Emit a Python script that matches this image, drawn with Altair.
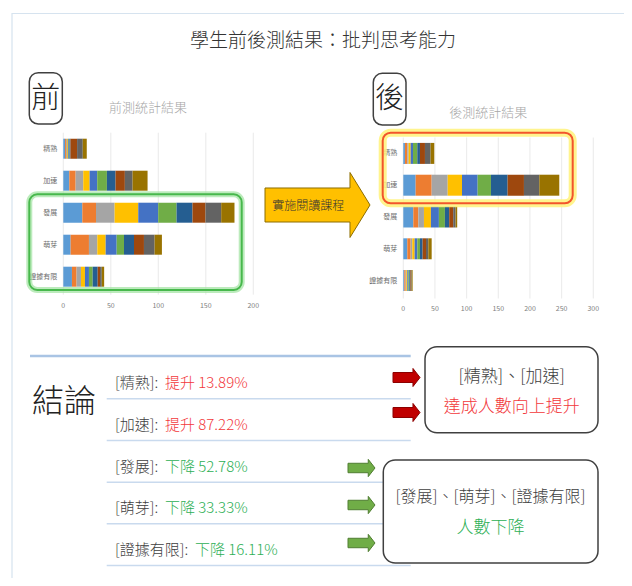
import altair as alt
import pandas as pd

FONT = "Noto Sans CJK TC"
OX, OY = 8, 8


def X(v):
    return v - OX


def Y(v):
    return v - OY


# ---------------- data ----------------
categories = ["精熟", "加速", "發展", "萌芽", "證據有限"]
series = ["S1", "S2", "S3", "S4", "S5", "S6", "S7", "S8", "S9", "S10"]
palette = ["#5B9BD5", "#ED7D31", "#A5A5A5", "#FFC000", "#4472C4",
           "#70AD47", "#255E91", "#9E480E", "#636363", "#997300"]

pre_mastery = [1.8, 1.0, 1.0, 1.0, 1.0, 0.7, 1.0, 7.0, 6.0, 4.2]
pre_accel = [6.3, 6.7, 8.0, 6.7, 8.0, 10.2, 9.1, 9.8, 8.1, 15.8]
pre_develop = [20.0, 14.4, 19.6, 24.9, 21.0, 19.3, 16.8, 13.7, 16.5, 14.0]
pre_sprout = [7.7, 19.3, 8.8, 8.8, 11.6, 7.7, 10.5, 10.5, 11.2, 7.7]
pre_limited = [9.1, 4.9, 4.6, 4.2, 4.2, 3.9, 5.3, 2.5, 1.8, 2.5]

post_mastery = [2.6, 3.7, 2.1, 3.2, 3.7, 6.8, 4.2, 7.9, 8.9, 5.8]
post_accel = [19.5, 25.3, 25.3, 22.6, 24.7, 21.0, 26.3, 25.8, 24.2, 31.6]
post_develop = [15.8, 7.9, 8.9, 11.0, 12.6, 9.5, 6.8, 6.3, 3.7, 2.6]
post_sprout = [6.3, 5.3, 2.6, 3.7, 4.2, 4.2, 4.2, 5.3, 3.7, 5.3]
post_limited = [1.6, 2.1, 1.0, 1.6, 1.6, 1.6, 1.6, 1.0, 1.0, 1.6]

pre_ticks = [0, 50, 100, 150, 200]
post_ticks = [0, 50, 100, 150, 200, 250, 300]

conc_labels = ["精熟", "加速", "發展", "萌芽", "證據有限"]
conc_dir = ["提升", "提升", "下降", "下降", "下降"]
conc_pct = [13.89, 87.22, 52.78, 33.33, 16.11]

RED = "#F2383B"
GREEN = "#2DAF55"
LIGHT = 300


def long_df(rows):
    recs = []
    for cat, vals in zip(categories, rows):
        for i, v in enumerate(vals):
            recs.append({"cat": cat, "series": series[i], "idx": i, "value": v})
    return pd.DataFrame(recs)


pre_df = long_df([pre_mastery, pre_accel, pre_develop, pre_sprout, pre_limited])
post_df = long_df([post_mastery, post_accel, post_develop, post_sprout, post_limited])
cat_df = pd.DataFrame({"cat": categories})
one = pd.DataFrame({"k": [0]})


def bar_panel(df, ticks, xdomain, xrange, yrange, pad_inner, tick_y, label_x):
    tick_df = pd.DataFrame({"t": ticks})
    xs = alt.Scale(domain=xdomain, range=xrange)
    ys = alt.Scale(domain=categories, range=yrange,
                   paddingInner=pad_inner, paddingOuter=pad_inner / 2)
    grid = alt.Chart(tick_df).mark_rule(color="#E4E4E4", strokeWidth=0.8).encode(
        x=alt.X("t:Q", scale=xs, axis=None),
        y=alt.value(yrange[0]), y2=alt.value(yrange[1] + 2),
    )
    bars = alt.Chart(df).mark_bar().encode(
        x=alt.X("value:Q", stack="zero", scale=xs, axis=None),
        y=alt.Y("cat:N", scale=ys, sort=categories, axis=None),
        color=alt.Color("series:N", scale=alt.Scale(domain=series, range=palette), legend=None),
        order=alt.Order("idx:Q"),
    )
    tick_text = alt.Chart(tick_df).mark_text(
        font=FONT, fontSize=7, fill="#808080", baseline="middle"
    ).encode(
        x=alt.X("t:Q", scale=xs, axis=None),
        y=alt.value(tick_y),
        text=alt.Text("t:Q"),
    )
    cat_text = alt.Chart(cat_df).mark_text(
        font=FONT, fontSize=7, fill="#6E6E6E", align="right", baseline="middle"
    ).encode(
        x=alt.value(label_x),
        y=alt.Y("cat:N", scale=ys, sort=categories, axis=None),
        text="cat:N",
    )
    return alt.layer(grid, bars, tick_text, cat_text)


left_panel = bar_panel(pre_df, pre_ticks, [0, 200], [X(63.3), X(253.3)],
                       [Y(132.7), Y(292.7)], 0.375, Y(306), X(57.3))
right_panel = bar_panel(post_df, post_ticks, [0, 300], [X(403.3), X(593.3)],
                        [Y(137.5), Y(296.5)], 0.34, Y(309.3), X(397.3))


# ---------------- decorations ----------------
def text(s, x, y, size, color="#333333", align="center", weight=LIGHT):
    return alt.Chart(one).mark_text(
        text=s, font=FONT, fontSize=size, color=color, align=align,
        baseline="middle", fontWeight=weight
    ).encode(x=alt.value(X(x)), y=alt.value(Y(y)))


def box(x1, x2, y1, y2, stroke, sw, radius, fill="white", fill_opacity=1.0, opacity=1.0):
    return alt.Chart(one).mark_rect(
        cornerRadius=radius, fill=fill, fillOpacity=fill_opacity,
        stroke=stroke, strokeWidth=sw, strokeOpacity=opacity
    ).encode(x=alt.value(X(x1)), x2=alt.value(X(x2)),
             y=alt.value(Y(y1)), y2=alt.value(Y(y2)))


def arrow(cx, cy, width, body, head, base, fill, stroke):
    path = (f"M-1,{-body} L{base},{-body} L{base},{-head} L1,0 "
            f"L{base},{head} L{base},{body} L-1,{body} Z")
    return alt.Chart(one).mark_point(
        shape=path, size=width * width, filled=True, fill=fill,
        fillOpacity=1, stroke=stroke, strokeWidth=1, opacity=1
    ).encode(x=alt.value(X(cx)), y=alt.value(Y(cy)))


frame = box(12, 640, 13.5, 600, "#D6E3EF", 1.2, 0, fill="white", fill_opacity=0)
title = text("學生前後測結果：批判思考能力", 323, 41, 19, "#333333")

pre_box = box(29.3, 62.3, 72.7, 124, "#404040", 1.5, 9)
pre_char = text("前", 45.8, 99, 29, "#222222")
pre_title = text("前測統計結果", 148, 108.3, 13, "#A6A6A6")
post_box = box(373.3, 406, 73.3, 125, "#404040", 1.5, 9)
post_char = text("後", 389.6, 99, 29, "#222222")
post_title = text("後測統計結果", 488.3, 113.3, 13, "#A6A6A6")

green_glow = box(29.3, 241.7, 194.3, 290, "#9FE3A0", 6, 8, fill_opacity=0, opacity=0.7)
green_line = box(29.3, 241.7, 194.3, 290, "#47B84C", 2, 8, fill_opacity=0)
orange_glow = box(382.7, 572.7, 132.7, 203.3, "#FFF27A", 8, 8, fill_opacity=0, opacity=0.85)
orange_line = box(382.7, 572.7, 132.7, 203.3, "#F2552C", 2, 8, fill_opacity=0)

big_arrow = arrow(317.5, 205, 105, 0.324, 0.619, 0.619, "#FFC000", "#8C6D00")
big_arrow_text = text("實施閱讀課程", 308.3, 205.7, 12, "#333333")

top_line = alt.Chart(one).mark_rule(color="#A9C4E4", strokeWidth=2.5).encode(
    x=alt.value(X(30)), x2=alt.value(X(410.7)), y=alt.value(Y(356)))
conclusion = text("結論", 64, 402, 32, "#222222")

conc_df = pd.DataFrame({"label": conc_labels, "dir": conc_dir, "pct": conc_pct})
rows = alt.Scale(type="point", domain=conc_labels, range=[Y(383.3), Y(550)], padding=0)

sep = alt.Chart(conc_df).mark_rule(color="#C9DAEE", strokeWidth=1.5, yOffset=15.5).encode(
    x=alt.value(X(106.7)), x2=alt.value(X(410.7)),
    y=alt.Y("label:N", scale=rows, sort=conc_labels, axis=None),
)
label_text = alt.Chart(conc_df).transform_calculate(
    txt="'[' + datum.label + ']:'"
).mark_text(font=FONT, fontSize=15, fontWeight=LIGHT, color="#404040",
            align="left", baseline="middle").encode(
    x=alt.value(X(115)),
    y=alt.Y("label:N", scale=rows, sort=conc_labels, axis=None),
    text="txt:N",
)
pct_text = alt.Chart(conc_df).transform_calculate(
    txt="datum.dir + ' ' + format(datum.pct, '.2f') + '%'",
    px=f"{X(135)} + 15 * length(datum.label)",
).mark_text(font=FONT, fontSize=15, fontWeight=LIGHT, align="left", baseline="middle").encode(
    x=alt.X("px:Q", scale=None),
    y=alt.Y("label:N", scale=rows, sort=conc_labels, axis=None),
    text="txt:N",
    color=alt.Color("dir:N", scale=alt.Scale(domain=["提升", "下降"], range=[RED, GREEN]), legend=None),
)

red1 = arrow(406.5, 377.5, 27, 0.37, 0.67, 0.48, "#C00000", "#8B0000")
red2 = arrow(406.5, 412.5, 27, 0.37, 0.67, 0.48, "#C00000", "#8B0000")
g1 = arrow(361.5, 468, 27, 0.35, 0.64, 0.5, "#70AD47", "#507E32")
g2 = arrow(361.5, 505, 27, 0.35, 0.64, 0.5, "#70AD47", "#507E32")
g3 = arrow(361.5, 543, 27, 0.35, 0.64, 0.5, "#70AD47", "#507E32")

box1 = box(425, 598, 346.7, 432.7, "#404040", 1.5, 12)
box1_t1 = text("[精熟]、[加速]", 511.7, 376.7, 17, "#404040")
box1_t2 = text("達成人數向上提升", 511.7, 406.7, 17, RED)
box2 = box(383.3, 598, 460, 563, "#404040", 1.5, 12)
box2_t1 = text("[發展]、[萌芽]、[證據有限]", 490.5, 496.7, 16, "#404040")
box2_t2 = text("人數下降", 490.5, 528.3, 17, GREEN)

chart = alt.layer(
    frame, title,
    pre_box, pre_char, pre_title, post_box, post_char, post_title,
    left_panel, right_panel,
    green_glow, green_line, orange_glow, orange_line,
    big_arrow, big_arrow_text,
    top_line, conclusion, sep, label_text, pct_text,
    red1, red2, g1, g2, g3,
    box1, box1_t1, box1_t2, box2, box2_t1, box2_t2,
).resolve_scale(
    x="independent", y="independent", color="independent"
).properties(
    width=616, height=570,
    autosize=alt.AutoSizeParams(type="none"),
    padding=0,
    background="white",
).configure_view(stroke=None)

chart.save("out.html", embed_options={"renderer": "svg", "actions": False})
